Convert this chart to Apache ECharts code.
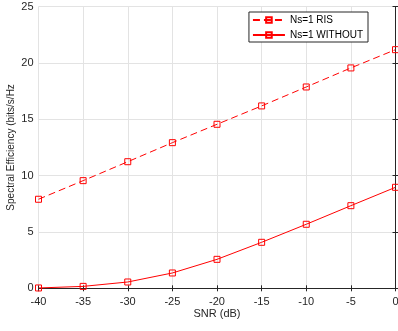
<!DOCTYPE html>
<html>
<head>
<meta charset="utf-8">
<script src="https://cdn.jsdelivr.net/npm/echarts@6/dist/echarts.min.js"></script>
<style>
  html, body { margin: 0; padding: 0; background: #fff; }
  #chart { width: 398px; height: 331px; }
</style>
</head>
<body>
<div id="chart"></div>
<script>
// SNR in dB
const snr = [-40, -35, -30, -25, -20, -15, -10, -5, 0]
const risValues = [7.9, 9.55, 11.23, 12.92, 14.55, 16.18, 17.86, 19.55, 21.17]
const withoutValues = [0.03, 0.17, 0.56, 1.36, 2.57, 4.08, 5.68, 7.33, 8.96]

const axisColor = '#262626'
const gridColor = '#e3e3e3'
const lineRed = '#ff0000'
const font = 'Liberation Sans, Arial, sans-serif'

let myChart = echarts.init(document.getElementById('chart'))
let option = {
  animation: false,
  textStyle: { fontFamily: font },
  grid: { left: 38.5, right: 2.5, top: 6.5, bottom: 42.7, outerBoundsMode: 'none', containLabel: false },
  legend: {
    right: 30,
    top: 12,
    orient: 'vertical',
    itemWidth: 32,
    itemHeight: 7,
    itemGap: 5,
    padding: [3, 5, 2, 3],
    backgroundColor: '#fff',
    borderColor: axisColor,
    borderWidth: 1,
    borderRadius: 0,
    textStyle: { fontSize: 10, color: '#000', fontFamily: font },
    data: ['Ns=1 RIS', 'Ns=1 WITHOUT']
  },
  xAxis: [{
    type: 'value',
    min: -40, max: 0, interval: 5,
    name: 'SNR (dB)',
    nameLocation: 'middle',
    nameGap: 20,
    nameMoveOverlap: false,
    nameTextStyle: { fontSize: 11, color: axisColor },
    axisLine: { show: true, lineStyle: { color: axisColor } },
    axisTick: { inside: true, length: 3, lineStyle: { color: axisColor } },
    axisLabel: { fontSize: 11, color: axisColor, margin: 8 },
    splitLine: { lineStyle: { color: gridColor } }
  }, {
    type: 'value', position: 'top',
    min: -40, max: 0, interval: 5,
    axisLine: { show: true, lineStyle: { color: axisColor } },
    axisTick: { inside: true, length: 3, lineStyle: { color: axisColor } },
    axisLabel: { show: false },
    splitLine: { show: false }
  }],
  yAxis: [{
    type: 'value',
    min: 0, max: 25, interval: 5,
    name: 'Spectral Efficiency (bits/s/Hz',
    nameLocation: 'middle',
    nameGap: 22,
    nameMoveOverlap: false,
    nameTextStyle: { fontSize: 10, color: axisColor },
    axisLine: { show: true, lineStyle: { color: axisColor } },
    axisTick: { show: true, inside: true, length: 3, lineStyle: { color: axisColor } },
    axisLabel: { fontSize: 11, color: axisColor, margin: 5 },
    splitLine: { lineStyle: { color: gridColor } }
  }, {
    type: 'value', position: 'right',
    min: 0, max: 25, interval: 5,
    axisLine: { show: true, lineStyle: { color: axisColor } },
    axisTick: { show: true, inside: true, length: 3, lineStyle: { color: axisColor } },
    axisLabel: { show: false },
    splitLine: { show: false }
  }],
  series: [
    {
      name: 'Ns=1 RIS',
      type: 'line',
      data: snr.map((x, i) => [x, risValues[i]]),
      symbol: 'rect',
      symbolSize: 6,
      lineStyle: { width: 1, color: lineRed, type: [7, 4] },
      itemStyle: { color: 'rgba(255,255,255,0)', borderColor: lineRed, borderWidth: 1 }
    },
    {
      name: 'Ns=1 WITHOUT',
      type: 'line',
      data: snr.map((x, i) => [x, withoutValues[i]]),
      symbol: 'rect',
      symbolSize: 6,
      lineStyle: { width: 1, color: lineRed },
      itemStyle: { color: 'rgba(255,255,255,0)', borderColor: lineRed, borderWidth: 1 }
    }
  ]
}
myChart.setOption(option, true)
</script>
</body>
</html>
